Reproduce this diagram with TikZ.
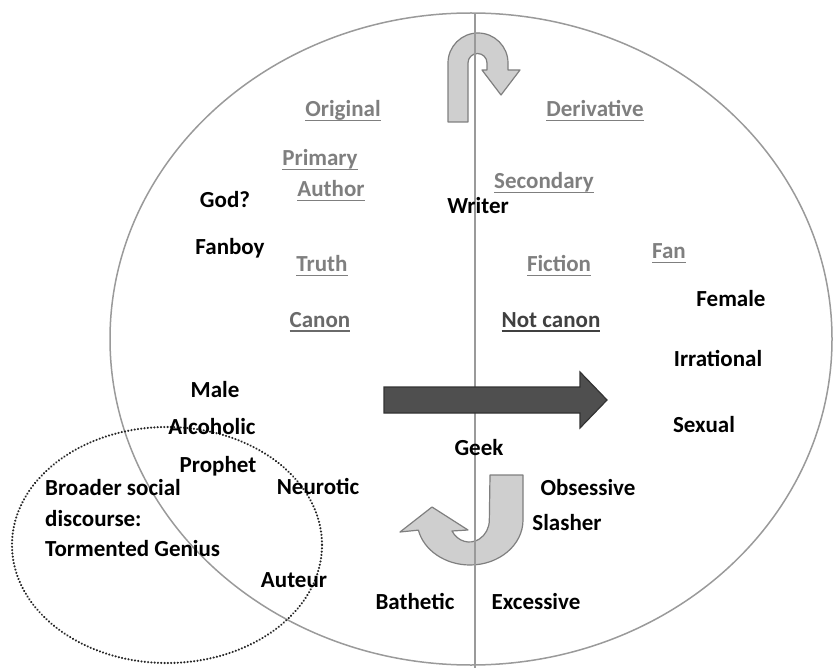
\documentclass[tikz,border=0pt]{standalone}
\usepackage{fontspec}
\setmainfont{Carlito}
\usepackage{tikz}
\usetikzlibrary{positioning,calc}
\definecolor{headgray}{HTML}{7F7F7F}
\definecolor{canongray}{HTML}{6A6A6A}
\definecolor{notcanongray}{HTML}{404040}
\definecolor{linegray}{HTML}{9A9A9A}
\definecolor{arrowfill}{HTML}{CFCFCF}
\definecolor{arrowdark}{HTML}{4F4F4F}
\newcommand\ulw[1]{\setbox0\hbox{#1}\rlap{\rule[-4.5pt]{\wd0}{1.7pt}}\box0}
\tikzset{
    txtnode/.style={anchor=base, inner sep=0pt, font=\fontsize{23}{30}\selectfont\bfseries},
    % Plain Word
    node_word/.style = {txtnode, text=black},
    % Underlined Heading
    node_head/.style = {txtnode, text=headgray},
    % Bent Arrows
    arrow_bent/.style = {fill=arrowfill, draw=headgray, line width=1.2pt, line join=round},
    arrow_big/.style = {fill=arrowdark, draw=black!80, line width=1.2pt}
}

\begin{document}
\begin{tikzpicture}[x=1pt, y=-1pt]
    \useasboundingbox (0,0) rectangle (835,668);

        % outer ring and divide
        \draw[linegray, line width=1.5pt] (471,339) ellipse [x radius=361, y radius=326];
        \coordinate (axis_top) at (475,13);
        \coordinate (axis_bot) at (475,668);

        % bent arrows
        \draw[arrow_bent] (448,122) -- (448,63) arc[start angle=180, end angle=360, radius=30]
            -- (508,70) -- (520,70) -- (501,95) -- (482,70) -- (487,70) -- (487,63)
            arc[start angle=0, end angle=-180, radius=9.5] -- (468,122) -- cycle;
        \draw[arrow_bent] (523,475) -- (523,520) arc[start angle=0, end angle=167, x radius=53, y radius=45]
            -- (400,532) -- (432,507) -- (468,530) -- (452,531)
            arc[start angle=150, end angle=0, x radius=20, y radius=22] -- (490,475) -- cycle;

        \draw[linegray, line width=1.5pt] (axis_top) -- (axis_bot);

        \draw[arrow_big] (384,387) -- (580,387) -- (580,372) -- (607,400) -- (580,428)
            -- (580,413) -- (384,413) -- cycle;

        % tormented genius ring
        \draw[black!85, line width=2.3pt, dash pattern=on 0.1pt off 3.2pt, line cap=round] (167,545) ellipse [x radius=155, y radius=118];

        % left side
        \node[node_head] (original) at (343,117) {\ulw{Original}};
        \node[node_head] (primary) at (320,166) {\ulw{Primary}};
        \node[node_head] (author) at (331,197) {\ulw{Author}};
        \node[node_head] (truth) at (322,272) {\ulw{Truth}};
        \node[node_head, text=canongray] (canon) at (320,327) {\ulw{Canon}};
        \node[node_word] (god) at (225,208) {God?};
        \node[node_word] (fanboy) at (230,255) {Fanboy};
        \node[node_word] (male) at (215,397) {Male};
        \node[node_word] (alcoholic) at (212,434) {Alcoholic};
        \node[node_word] (prophet) at (218,472) {Prophet};
        \node[node_word] (neurotic) at (318,494) {Neurotic};
        \node[node_word] (auteur) at (294,587) {Auteur};
        \node[node_word, anchor=base west] (social1) at (45,495) {Broader social};
        \node[node_word, anchor=base west] (social2) at (45,526) {discourse:};
        \node[node_word, anchor=base west] (social3) at (45,556) {Tormented Genius};

        % right side
        \node[node_head] (derivative) at (595,117) {\ulw{Derivative}};
        \node[node_head] (secondary) at (544,189) {\ulw{Secondary}};
        \node[node_head] (fiction) at (559,272) {\ulw{Fiction}};
        \node[node_head] (fan) at (669,259) {\ulw{Fan}};
        \node[node_head, text=notcanongray] (notcanon) at (551,327) {\ulw{Not canon}};
        \node[node_word] (female) at (731,306) {Female};
        \node[node_word] (irrational) at (718,366) {Irrational};
        \node[node_word] (sexual) at (704,432) {Sexual};
        \node[node_word] (obsessive) at (588,495) {Obsessive};
        \node[node_word] (slasher) at (567,530) {Slasher};

        % on the divide
        \node[node_word] (writer) at (478,214) {Writer};
        \node[node_word] (geek) at (479,455) {Geek};
        \node[node_word] (bathetic) at (415,609) {Bathetic};
        \node[node_word] (excessive) at (536,609) {Excessive};
\end{tikzpicture}
\end{document}
